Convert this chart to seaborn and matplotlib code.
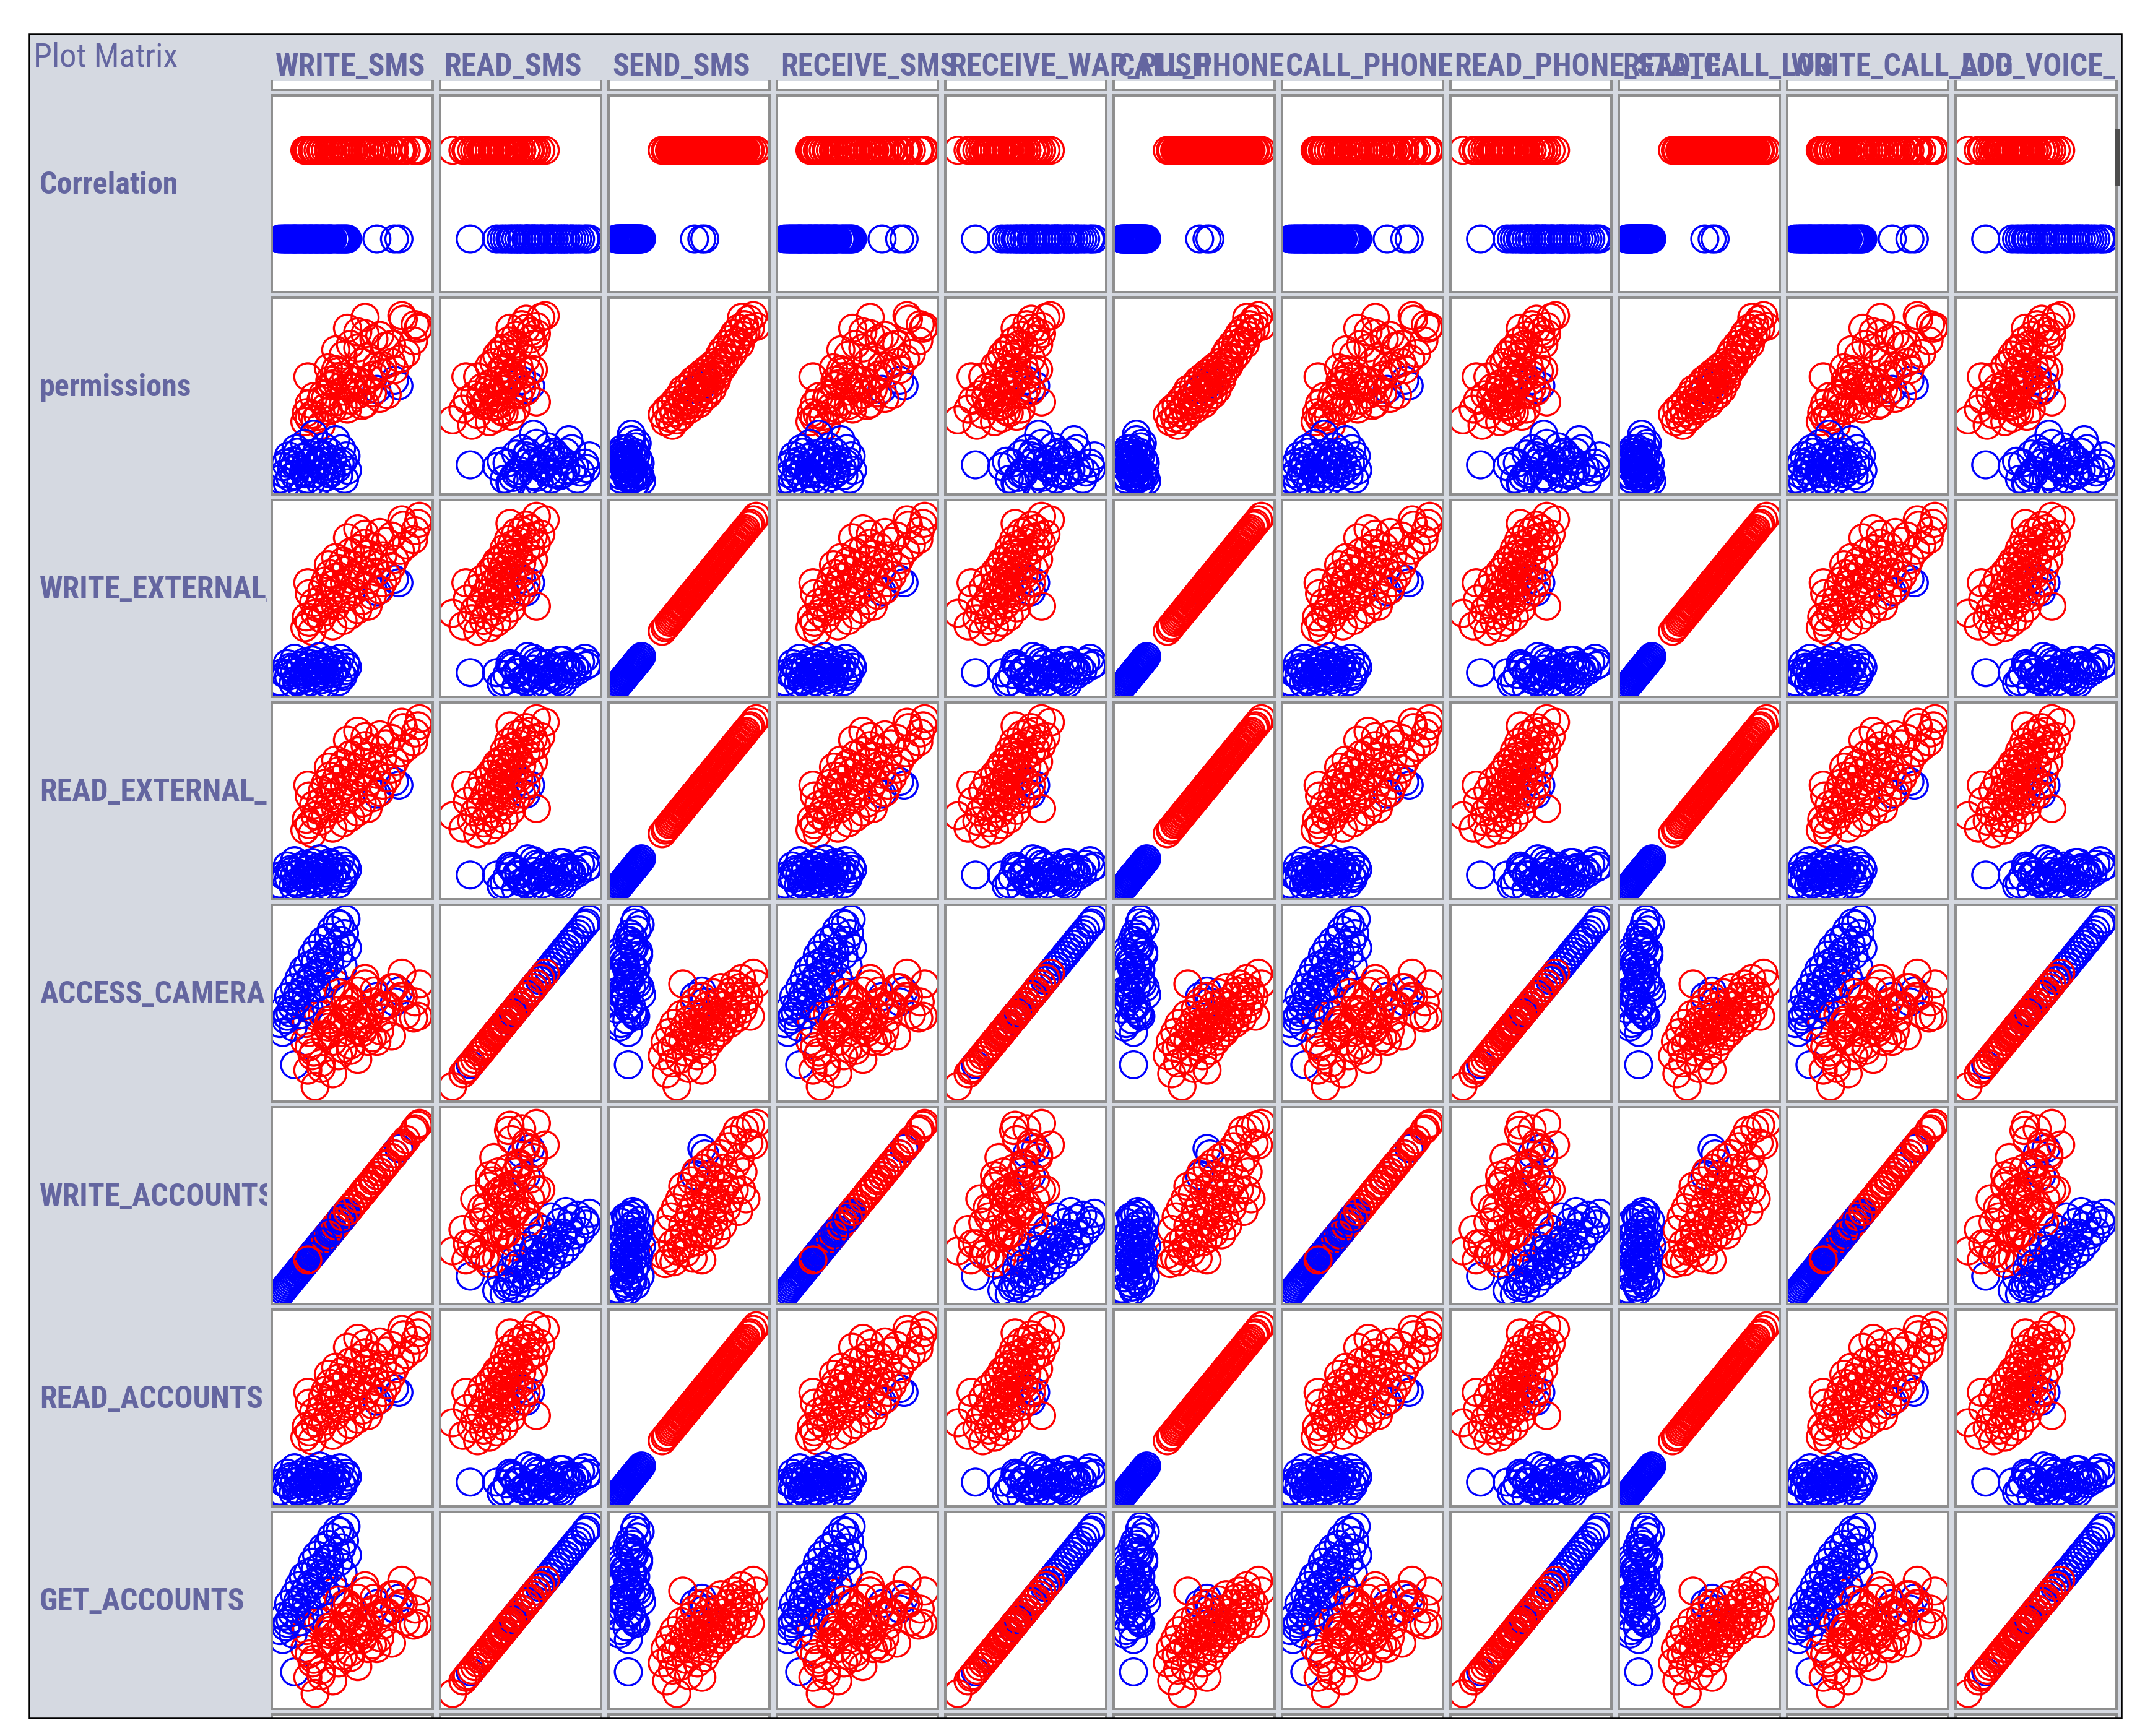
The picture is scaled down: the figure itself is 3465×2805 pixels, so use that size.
#!/usr/bin/env python3
"""Weka-style plot matrix of permission attributes, coloured by class."""

import os
import pandas as pd
import matplotlib
matplotlib.use("Agg")
import matplotlib.pyplot as plt
from matplotlib import font_manager
from matplotlib.font_manager import FontProperties
from matplotlib.patches import Rectangle
from matplotlib.transforms import Bbox, TransformedBbox
import seaborn as sns

# ---------------------------------------------------------------------------
# Labels
# ---------------------------------------------------------------------------
COL_NAMES = ["WRITE_SMS", "READ_SMS", "SEND_SMS", "RECEIVE_SMS",
             "RECEIVE_WAP_PUSH", "CALL_PHONE", "CALL_PHONE",
             "READ_PHONE_STATE", "READ_CALL_LOG", "WRITE_CALL_LOG",
             "ADD_VOICE_MAIL"]
ROW_NAMES = ["Correlation", "permissions", "WRITE_EXTERNAL_STORAGE",
             "READ_EXTERNAL_STORAGE", "ACCESS_CAMERA", "WRITE_ACCOUNTS",
             "READ_ACCOUNTS", "GET_ACCOUNTS"]

# the attributes fall into groups that carry identical values
COL_GROUP = ["grp_a", "grp_b", "grp_c", "grp_a", "grp_b", "grp_c",
             "grp_a", "grp_b", "grp_c", "grp_a", "grp_b"]
ROW_GROUP = ["corr", "perm", "grp_c", "grp_c", "grp_b", "grp_a",
             "grp_c", "grp_b"]

# ---------------------------------------------------------------------------
# Instance values (normalised 0..1)
# ---------------------------------------------------------------------------
red_c = [.33, .35, .36, .38, .39, .40, .41, .42, .43, .44, .45, .46, .47, .47,
         .48, .49, .50, .51, .51, .52, .53, .54, .54, .55, .56, .57, .57, .58,
         .59, .60, .60, .61, .62, .62, .63, .64, .64, .65, .66, .67, .67, .68,
         .69, .70, .70, .71, .72, .73, .73, .74, .75, .76, .77, .78, .79, .80,
         .81, .82, .83, .84, .85, .86, .87, .88, .89, .90, .92, .93, .95, .97,
         .60]
red_perm = [.41, .37, .44, .39, .46, .35, .42, .49, .38, .45, .52, .40, .48,
            .55, .43, .51, .46, .57, .49, .44, .53, .60, .47, .56, .50, .62,
            .52, .47, .58, .64, .54, .50, .61, .56, .66, .52, .60, .57, .68,
            .62, .55, .65, .70, .60, .67, .63, .74, .66, .70, .77, .68, .73,
            .80, .72, .78, .83, .75, .86, .79, .82, .89, .80, .95, .85, .91,
            .87, .94, .89, .96, .90, .62]
red_a = [.24, .19, .38, .22, .45, .30, .20, .50, .26, .33, .55, .28, .40, .62,
         .35, .25, .58, .44, .30, .48, .65, .36, .22, .52, .70, .42, .31, .60,
         .38, .72, .46, .33, .63, .50, .40, .75, .55, .36, .68, .47, .58, .42,
         .78, .52, .35, .66, .45, .80, .58, .40, .72, .62, .50, .84, .55, .66,
         .88, .60, .74, .93, .48, .78, .60, .70, .94, .55, .86, .96, .85, .97,
         .21]
red_b = [.22, .30, .12, .35, .26, .18, .40, .28, .05, .33, .20, .45, .62, .30,
         .38, .24, .35, .42, .15, .48, .32, .40, .27, .52, .36, .22, .45, .38,
         .30, .43, .55, .34, .46, .25, .38, .50, .36, .42, .30, .47, .39, .57,
         .33, .44, .40, .52, .35, .60, .45, .38, .50, .42, .47, .55, .40, .58,
         .45, .62, .50, .43, .55, .60, .65, .48, .52, .58, .55, .44, .68, .62,
         .14]

# first four blue instances are the odd ones sitting apart from the cluster
blue_a = [.12, .68, .80, .83,
          .02, .04, .05, .07, .08, .10, .11, .12, .13, .15, .16, .17, .18, .19,
          .20, .21, .22, .23, .24, .25, .26, .27, .28, .29, .30, .31, .32, .33,
          .34, .35, .36, .37, .38, .40, .41, .42, .43, .45, .46, .48, .47,
          .06, .09, .14, .19, .23, .27, .31, .36, .44]
blue_b = [.17, .55, .52, .58,
          .40, .35, .48, .44, .55, .50, .38, .60, .52, .65, .45, .58, .70, .62,
          .55, .72, .48, .66, .78, .60, .74, .82, .68, .56, .76, .86, .70, .62,
          .80, .88, .74, .92, .66, .84, .96, .78, .95, .72, .90, .82, .98,
          .42, .46, .56, .50, .64, .60, .72, .80, .86]
blue_c = [.10, .55, .62, .60,
          .05, .10, .02, .15, .08, .12, .04, .18, .06, .11, .14, .03, .09, .16,
          .07, .13, .10, .05, .17, .12, .08, .14, .02, .19, .06, .11, .15, .09,
          .04, .13, .07, .16, .10, .12, .14, .05, .18, .08, .11, .13, .15,
          .09, .13, .05, .10, .15, .07, .12, .17, .09]
blue_perm = [.13, .55, .60, .57,
             .05, .12, .08, .03, .18, .10, .15, .07, .22, .12, .02, .17, .09,
             .25, .14, .05, .19, .11, .16, .30, .08, .20, .13, .04, .18, .10,
             .23, .06, .15, .12, .20, .09, .16, .27, .11, .07, .14, .15, .05,
             .10, .18,
             .14, .06, .20, .08, .03, .14, .19, .08, .22]

# ---------------------------------------------------------------------------
# Layout (pixels of the 3465 x 2805 output)
# ---------------------------------------------------------------------------
W, H, DPI = 3465, 2805, 300
COL_X0, COL_PITCH, PANEL_W = 439, 272, 260
ROW_Y0, ROW_PITCH, PANEL_H = 154, 327, 318
FRAME = (47, 55, 3427, 2776)          # left, top, right, bottom

BG = "#d5d9e1"
TXT = "#6466a0"
SPINE = "#8e8e8e"
PALETTE = {"red": "#ff0000", "blue": "#0000ff"}
LIM = (-0.035, 1.06)
CORR_LIM = (-0.6, 1.62)


def fig_box(left, top, width, height):
    return [left / W, 1 - (top + height) / H, width / W, height / H]


def fig_clip(fig, x0, y0, x1, y1):
    bb = Bbox.from_extents(x0 / W, 1 - y1 / H, x1 / W, 1 - y0 / H)
    return TransformedBbox(bb, fig.transFigure)


def style_panel(ax, spines=("left", "right", "top", "bottom")):
    ax.set_facecolor("white")
    ax.set_xticks([])
    ax.set_yticks([])
    ax.set_xlabel("")
    ax.set_ylabel("")
    for name, sp in ax.spines.items():
        sp.set_visible(name in spines)
        sp.set_color(SPINE)
        sp.set_linewidth(0.95)


def narrow_fonts():
    """Find a condensed sans face; the original uses a narrow UI font."""
    files = font_manager.findSystemFonts()
    pairs = [("LiberationSansNarrow-Bold.", "LiberationSansNarrow-Regular."),
             ("RobotoCondensed-Bold.", "RobotoCondensed-Regular."),
             ("DejaVuSansCondensed-Bold.", "DejaVuSansCondensed.")]
    for bold_key, reg_key in pairs:
        bold = [f for f in files if os.path.basename(f).startswith(bold_key)]
        reg = [f for f in files if os.path.basename(f).startswith(reg_key)]
        if bold:
            return (FontProperties(fname=bold[0], size=12),
                    FontProperties(fname=(reg or bold)[0], size=13))
    return (FontProperties(family="Liberation Sans", weight="bold", size=10),
            FontProperties(family="Liberation Sans", size=11))


sns.set_style("white")
LABEL_FONT, TITLE_FONT = narrow_fonts()

blue_df = pd.DataFrame({"grp_a": blue_a, "grp_b": blue_b, "grp_c": blue_c,
                        "perm": blue_perm, "cls": "blue"})
red_df = pd.DataFrame({"grp_a": red_a, "grp_b": red_b, "grp_c": red_c,
                       "perm": red_perm, "cls": "red"})
# instances come in mixed order, so the two classes overdraw each other
blue_df["rank"] = range(len(blue_df))
red_df["rank"] = range(len(red_df))
df = (pd.concat([blue_df, red_df], ignore_index=True)
      .sort_values("rank", kind="stable").reset_index(drop=True))
df["corr"] = (df["cls"] == "red").astype(float)

fig = plt.figure(figsize=(W / DPI, H / DPI), dpi=DPI)
fig.patch.set_facecolor("white")

fx0, fy0, fx1, fy1 = FRAME
fig.add_artist(Rectangle((fx0 / W, 1 - fy1 / H), (fx1 - fx0) / W,
                         (fy1 - fy0) / H, transform=fig.transFigure,
                         facecolor=BG, edgecolor="none", zorder=-5))

fig.text(54 / W, 1 - 108 / H, "Plot Matrix", fontproperties=TITLE_FONT,
         color=TXT, ha="left", va="baseline")

# column headers (they overlap each other, like the original)
for c, name in enumerate(COL_NAMES):
    t = fig.text((COL_X0 + c * COL_PITCH + 6) / W, 1 - 122 / H, name,
                 fontproperties=LABEL_FONT, color=TXT, ha="left",
                 va="baseline")
    t.set_clip_box(fig_clip(fig, fx0, fy0, 3417, 131))
    t.set_clip_on(True)

# row headers, cut at the panel edge
for r, name in enumerate(ROW_NAMES):
    yc = ROW_Y0 + r * ROW_PITCH + PANEL_H / 2
    t = fig.text(64 / W, 1 - yc / H, name, fontproperties=LABEL_FONT,
                 color=TXT, ha="left", va="baseline")
    t.set_clip_box(fig_clip(fig, fx0, fy0, COL_X0 - 8, fy1))
    t.set_clip_on(True)

# scrolled-off slivers above and below the visible rows
for c in range(len(COL_NAMES)):
    x = COL_X0 + c * COL_PITCH
    ax = fig.add_axes(fig_box(x, 131, PANEL_W, 14))
    style_panel(ax, spines=("left", "right", "bottom"))
    ax = fig.add_axes(fig_box(x, ROW_Y0 + 8 * ROW_PITCH, PANEL_W,
                              fy1 - (ROW_Y0 + 8 * ROW_PITCH)))
    style_panel(ax, spines=("left", "right", "top"))

# the matrix itself
for r, ycol in enumerate(ROW_GROUP):
    for c, xcol in enumerate(COL_GROUP):
        ax = fig.add_axes(fig_box(COL_X0 + c * COL_PITCH,
                                  ROW_Y0 + r * ROW_PITCH, PANEL_W, PANEL_H))
        sns.scatterplot(data=df, x=xcol, y=ycol, hue="cls", palette=PALETTE,
                        s=110, linewidth=0.8, legend=False, ax=ax)
        coll = ax.collections[-1]
        coll.set_edgecolors(coll.get_facecolors())
        coll.set_facecolor("none")
        ax.set_xlim(LIM)
        ax.set_ylim(CORR_LIM if ycol == "corr" else LIM)
        style_panel(ax)

# scrollbar thumb and outer frame
fig.add_artist(Rectangle((3417 / W, 1 - 300 / H), 8 / W, 92 / H,
                         transform=fig.transFigure, facecolor="#4d4d4d",
                         edgecolor="none", zorder=4))
fig.add_artist(Rectangle((fx0 / W, 1 - fy1 / H), (fx1 - fx0) / W,
                         (fy1 - fy0) / H, transform=fig.transFigure,
                         facecolor="none", edgecolor="black", linewidth=0.6,
                         zorder=5))

fig.savefig("out.png", dpi=DPI, facecolor="white")
